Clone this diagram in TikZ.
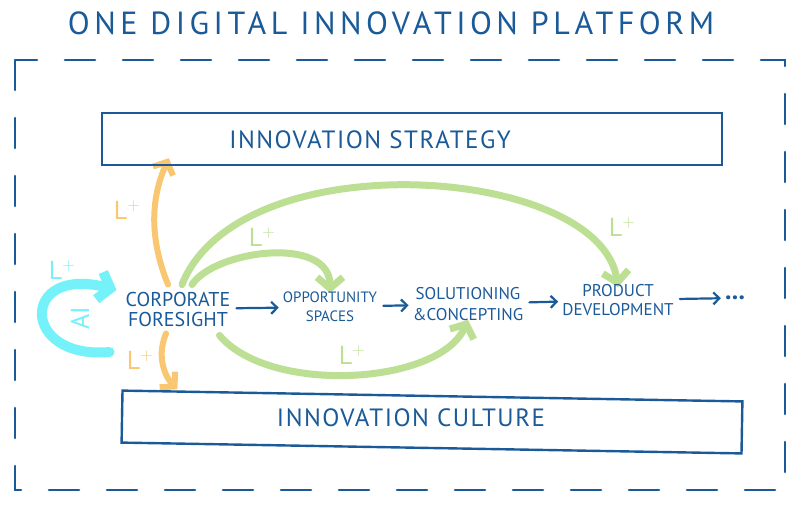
\documentclass[tikz,border=0pt]{standalone}
\usepackage{fontspec}
\setmainfont{PT Sans}
\usetikzlibrary{arrows.meta}
\pgfdeclarelayer{edgelayer}
\pgfdeclarelayer{nodelayer}
\pgfsetlayers{edgelayer,nodelayer,main}
\definecolor{inkblue}{HTML}{1A5A98}
\definecolor{leafgreen}{HTML}{BCDF94}
\definecolor{peach}{HTML}{F9C672}
\definecolor{aqua}{HTML}{74F1F9}
\tikzstyle{title}=[text=inkblue, font=\fontsize{32}{34}\selectfont\addfontfeature{LetterSpace=14}]
\tikzstyle{stage}=[align=center, text=inkblue, inner sep=1pt]
\tikzstyle{band}=[draw=inkblue, line width=2.4pt, minimum width=620, minimum height=52]
\tikzstyle{bandtext}=[text=inkblue, font=\fontsize{25}{26}\selectfont\addfontfeature{LetterSpace=6}]
\tikzstyle{frame}=[draw=inkblue, line width=2.6pt, line cap=round, dash pattern=on 30pt off 28pt]
\tikzstyle{flow}=[draw=inkblue, line width=2.2pt, line cap=round, shorten <=5pt, shorten >=3pt, -{Straight Barb[length=6pt,width=12pt]}]
\tikzstyle{greenedge}=[draw=leafgreen, line width=7pt, line cap=round, -{Straight Barb[length=11pt,width=26pt]}]
\tikzstyle{orangeedge}=[draw=peach, line width=6pt, line cap=round, -{Straight Barb[length=10pt,width=22pt]}]
\tikzstyle{aiedge}=[draw=aqua, line width=10pt, line cap=round, -{Straight Barb[length=11pt,width=28pt]}]
\tikzstyle{gain}=[font=\fontsize{26}{26}\selectfont, inner sep=0pt]

\begin{document}
\begin{tikzpicture}[x=1pt, y=-1pt]
\useasboundingbox (0,0) rectangle (800,507);
\begin{pgfonlayer}{nodelayer}
  \node [style=title] (platform) at (391,23) {ONE DIGITAL INNOVATION PLATFORM};
  \node [style=band] (strategy) at (412,139) {};
  \node [style=bandtext] (strategy-text) at (370,140) {INNOVATION STRATEGY};
  \node [style=band, rotate=-1] (culture) at (432,422) {};
  \node [style=bandtext] (culture-text) at (411,418) {INNOVATION CULTURE};
  \node [style=stage, font=\fontsize{20}{20}\selectfont] (cf) at (178,309) {CORPORATE\\FORESIGHT};
  \node [style=stage, font=\fontsize{15}{19}\selectfont] (os) at (330,307) {OPPORTUNITY\\SPACES};
  \node [style=stage, font=\fontsize{17}{21}\selectfont] (sc) at (468,304) {SOLUTIONING\\\&CONCEPTING};
  \node [style=stage, font=\fontsize{17}{19}\selectfont] (pd) at (618,300) {PRODUCT\\DEVELOPMENT};
  \node [style=stage, font=\fontsize{26}{26}\selectfont\bfseries] (more) at (735,298) {...};
  % labels
  \node [style=gain, text=aqua] (ai-gain) at (62,270) {L$^{+}$};
  \node [style=gain, text=aqua, rotate=90] (ai) at (80,318) {AI};
  \node [style=gain, text=peach] (up-gain) at (127,210) {L$^{+}$};
  \node [style=gain, text=peach] (down-gain) at (140,360) {L$^{+}$};
  \node [style=gain, text=leafgreen] (os-gain) at (262,237) {L$^{+}$};
  \node [style=gain, text=leafgreen] (pd-gain) at (622,227) {L$^{+}$};
  \node [style=gain, text=leafgreen] (sc-gain) at (352,355) {L$^{+}$};
\end{pgfonlayer}
\begin{pgfonlayer}{edgelayer}
  \draw [style=frame] (15,60) rectangle (785,490);
  \draw [style=greenedge] ([shift={(4,-6)}]cf.north) .. controls (240,140) and (600,165) .. ([yshift=-4pt]pd.north);
  \draw [style=greenedge] ([shift={(14,-6)}]cf.north) .. controls (215,250) and (330,235) .. ([yshift=-2pt]os.north);
  \draw [style=greenedge] ([shift={(-12,8)}]cf.south east) .. controls (270,395) and (440,385) .. ([yshift=2pt]sc.south);
  \draw [style=orangeedge] ([shift={(-10,-6)}]cf.north) .. controls (150,240) and (150,200) .. ([shift={(68,-8)}]strategy.south west);
  \draw [style=orangeedge] ([shift={(-12,6)}]cf.south) .. controls (155,360) and (168,380) .. ([xshift=56pt]culture.north west);
  \draw [style=aiedge] ([shift={(-15,43)}]cf.west) .. controls (20,360) and (20,265) .. ([shift={(-8,-19)}]cf.west);
  \draw [style=flow] (cf) -- (os);
  \draw [style=flow] (os) -- (sc);
  \draw [style=flow] (sc) -- (pd);
  \draw [style=flow] (pd) -- (more);
\end{pgfonlayer}
\end{tikzpicture}
\end{document}
